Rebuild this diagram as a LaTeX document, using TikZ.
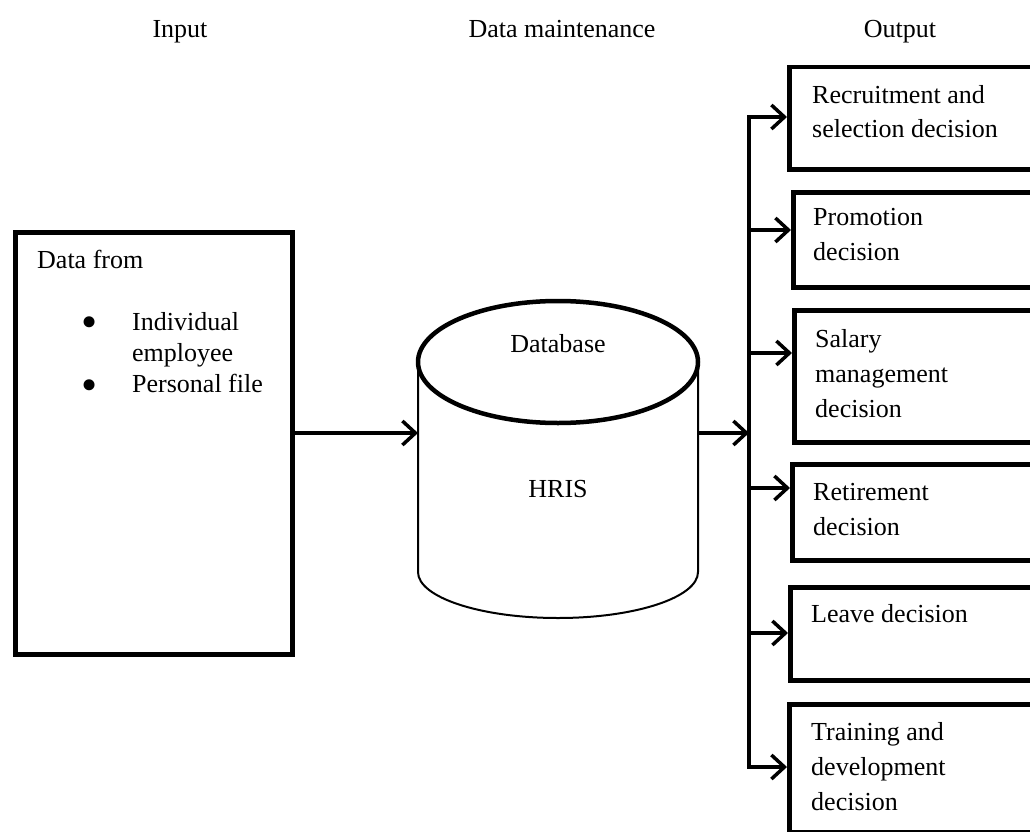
\documentclass[tikz,border=0pt]{standalone}
\usepackage{fontspec}
\setmainfont{Liberation Serif}
\usetikzlibrary{arrows.meta}
% first-line baseline of a multi-line label sits on the node's base anchor
\newcommand\stackedlines[1]{\parbox[t]{230pt}{\raggedright\fontsize{26}{35}\selectfont #1}}

\begin{document}
\begin{tikzpicture}[x=1pt,y=-1pt,
  frame/.style={draw, line width=4.5pt, inner sep=0pt, anchor=north west},
  label/.style={inner sep=0pt, anchor=base west, font=\fontsize{26}{35}\selectfont},
  heading/.style={inner sep=0pt, anchor=base, font=\fontsize{26}{31}\selectfont},
  bulletmark/.style={inner sep=0pt, anchor=center, font=\fontsize{46}{46}\selectfont},
  conn/.style={line width=3.5pt},
  arr/.style={conn, -{Straight Barb[length=13pt,width=24pt]}},
]
\useasboundingbox (0,0) rectangle (1030,832);
\clip (0,0) rectangle (1030,832);

% column headings
\node[heading] (hin)  at (180,38) {Input};
\node[heading] (hdm)  at (562,38) {Data maintenance};
\node[heading] (hout) at (900,38) {Output};

% input box
\node[frame, minimum width=277pt, minimum height=422pt] (inbox) at (13,230) {};
\node[label] (infrom) at (37,268) {Data from};
\node[bulletmark] (b1) at (90,327) {•};
\node[bulletmark] (b2) at (90,390) {•};
\node[label] (ind) at (132,330) {\stackedlines{Individual\\[-4pt]employee}};
\node[label] (pers) at (132,392) {Personal file};

% database cylinder
\filldraw[fill=white, line width=2pt] (418,362) -- (418,572)
  arc[start angle=180, end angle=360, x radius=140pt, y radius=46pt] -- (698,362);
\draw[line width=4.5pt, fill=white] (558,362) ellipse [x radius=140pt, y radius=61pt];
\node[inner sep=0pt, minimum width=280pt, minimum height=318pt] (db) at (558,459) {};
\node[heading] (dbtop) at (558,352) {Database};
\node[heading] (hris) at (558,497) {HRIS};

% output boxes
\node[frame, minimum width=300pt, minimum height=102pt] (o1) at (787,65) {};
\node[frame, minimum width=300pt, minimum height=95pt]  (o2) at (791,190) {};
\node[frame, minimum width=300pt, minimum height=132pt] (o3) at (792,308) {};
\node[frame, minimum width=300pt, minimum height=96pt]  (o4) at (790,462) {};
\node[frame, minimum width=300pt, minimum height=93pt]  (o5) at (788,585) {};
\node[frame, minimum width=300pt, minimum height=128pt] (o6) at (787,702) {};

\node[label] (t1) at (812,103) {\stackedlines{Recruitment and\\selection decision}};
\node[label] (t2) at (813,225) {\stackedlines{Promotion\\decision}};
\node[label] (t3) at (815,347) {\stackedlines{Salary\\management\\decision}};
\node[label] (t4) at (813,500) {\stackedlines{Retirement\\decision}};
\node[label] (t5) at (811,622) {Leave decision};
\node[label] (t6) at (811,740) {\stackedlines{Training and\\development\\decision}};

% connectors
\coordinate (dbL) at (418,433);
\coordinate (dbR) at (698,433);
\coordinate (busTop) at (749,117);
\coordinate (busBot) at (749,767);
\coordinate (busIn) at (749,433);

\draw[arr] (inbox.east |- dbL) -- (dbL);
\draw[arr] (dbR) -- (busIn);
\draw[conn, line cap=rect] (busTop) -- (busBot);
\draw[arr] (busTop) -- (o1.west |- busTop);
\draw[arr] (749,230) -- (o2.west |- 0,230);
\draw[arr] (749,353) -- (o3.west |- 0,353);
\draw[arr] (749,488) -- (o4.west |- 0,488);
\draw[arr] (749,633) -- (o5.west |- 0,633);
\draw[arr] (busBot) -- (o6.west |- busBot);
\end{tikzpicture}
\end{document}
